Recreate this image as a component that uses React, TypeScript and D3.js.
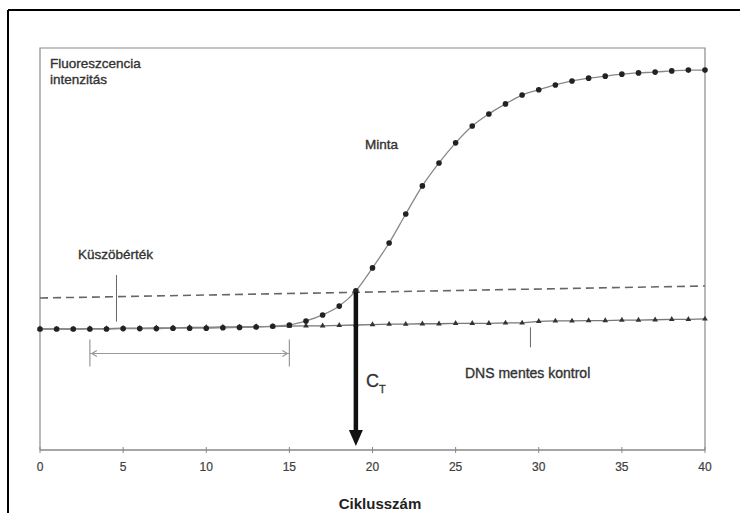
import React from 'react';
import * as d3 from 'd3';

// cycles 0..40
const cycles = d3.range(0, 41);

// sample fluorescence (Minta)
const sampleValues = [
  30.1,
  30.1, 30.1, 30.1, 30.1, 30.2, 30.2, 30.2, 30.3, 30.3, 30.3,
  30.4, 30.5, 30.6, 30.8, 31.1, 32.1, 33.6, 35.8, 39.6, 45.3,
  51.5, 58.7, 65.7, 71.4, 76.4, 80.6, 83.6, 86.1, 88.3, 89.6,
  90.8, 91.8, 92.5, 93.0, 93.5, 93.8, 94.0, 94.3, 94.5, 94.5,
];

// no template control (DNS mentes kontrol)
const controlValues = [
  30.1,
  30.1, 30.1, 30.2, 30.2, 30.3, 30.3, 30.4, 30.4, 30.5, 30.5,
  30.6, 30.6, 30.7, 30.7, 30.8, 30.9, 30.9, 31.0, 31.1, 31.2,
  31.3, 31.3, 31.4, 31.4, 31.5, 31.5, 31.5, 31.6, 31.6, 32.0,
  32.1, 32.1, 32.2, 32.2, 32.3, 32.3, 32.4, 32.5, 32.5, 32.6,
];

// threshold line, [cycle, value]
const threshold: [number, number][] = [[0, 37.8], [40, 40.8]];
const ctCycle = 19;
const baselineRange = [3, 15];
const xTicks = [0, 5, 10, 15, 20, 25, 30, 35, 40];

const W = 740;
const H = 513;
const m = { left: 40, right: 35, top: 48, bottom: 63 };

const font = 'Arial, "Liberation Sans", Helvetica, sans-serif';
const txt = { fill: '#333', stroke: '#333', strokeWidth: 0.35 };

export default function App() {
  const x = d3.scaleLinear().domain([0, 40]).range([m.left, W - m.right]);
  const y = d3.scaleLinear().domain([0, 100]).range([H - m.bottom, m.top]);

  const sample = cycles.map((c, i) => [c, sampleValues[i]] as [number, number]);
  const control = cycles.map((c, i) => [c, controlValues[i]] as [number, number]);

  const line = d3.line<[number, number]>().x(d => x(d[0])).y(d => y(d[1]));
  const curve = d3.line<[number, number]>().x(d => x(d[0])).y(d => y(d[1])).curve(d3.curveMonotoneX);
  const tri = d3.symbol(d3.symbolTriangle, 14)();

  const thrAt = (c: number) => threshold[0][1] + (threshold[1][1] - threshold[0][1]) * (c - threshold[0][0]) / (threshold[1][0] - threshold[0][0]);

  const x0 = x(0), x1 = x(40), yb = y(0), yt = y(100);
  const ctX = x(ctCycle);
  const ctTop = y(thrAt(ctCycle));
  const bandY = y(24);

  return (
    <svg width={W} height={H} style={{ position: 'absolute', left: 0, top: 0, background: '#fff' }} fontFamily={font}>
      {/* outer frame */}
      <line x1={8} y1={10} x2={W} y2={10} stroke="#000" strokeWidth={2} />
      <line x1={8} y1={10} x2={8} y2={H} stroke="#000" strokeWidth={2} />

      {/* plot box */}
      <path d={`M${x0},${yb}V${yt}H${x1}V${yb}`} fill="none" stroke="#8a8a8a" strokeWidth={1.2} />
      <line x1={x0} x2={x1} y1={yb} y2={yb} stroke="#888" strokeWidth={1.5} />

      {/* x axis ticks */}
      {xTicks.map(t => (
        <g key={t}>
          <line x1={x(t)} x2={x(t)} y1={yb - 3} y2={yb + 3} stroke="#888" />
          <text x={x(t)} y={yb + 21} fontSize={12} {...txt} strokeWidth={0.2} fill="#444" textAnchor="middle">{t}</text>
        </g>
      ))}
      <text x={380} y={509} fontSize={15} fontWeight="bold" fill="#222" textAnchor="middle">Ciklusszám</text>

      <text x={50} y={68} fontSize={13.5} {...txt}>Fluoreszcencia</text>
      <text x={50} y={84} fontSize={13.5} {...txt}>intenzitás</text>

      {/* threshold */}
      <path d={line(threshold) || ''} fill="none" stroke="#666" strokeWidth={1.6} strokeDasharray="8,5" />
      <text x={78} y={259} fontSize={13.5} {...txt}>Küszöbérték</text>
      <line x1={x(4.6)} x2={x(4.6)} y1={275} y2={y(thrAt(4.6)) + 25} stroke="#666" strokeWidth={1} />

      {/* control */}
      <path d={line(control) || ''} fill="none" stroke="#777" strokeWidth={1.3} />
      {control.map(d => (
        <path key={'t' + d[0]} d={tri} transform={`translate(${x(d[0])},${y(d[1])})`} fill="#333" />
      ))}
      <text x={465} y={378} fontSize={14} {...txt}>DNS mentes kontrol</text>
      <line x1={x(29.5)} x2={x(29.5)} y1={y(controlValues[30]) + 6} y2={y(controlValues[30]) + 26} stroke="#666" />

      {/* sample */}
      <path d={curve(sample) || ''} fill="none" stroke="#888" strokeWidth={1.3} />
      {sample.map(d => (
        <circle key={'c' + d[0]} cx={x(d[0])} cy={y(d[1])} r={2.8} fill="#222" />
      ))}
      <text x={365} y={149} fontSize={13.5} {...txt}>Minta</text>

      {/* baseline range */}
      <g stroke="#999" strokeWidth={1.2} fill="none">
        <line x1={x(baselineRange[0])} x2={x(baselineRange[1])} y1={bandY} y2={bandY} />
        <line x1={x(baselineRange[0])} x2={x(baselineRange[0])} y1={bandY - 14} y2={bandY + 13} />
        <line x1={x(baselineRange[1])} x2={x(baselineRange[1])} y1={bandY - 14} y2={bandY + 13} />
        <path d={`M${x(baselineRange[0]) + 7},${bandY - 3}L${x(baselineRange[0]) + 2},${bandY}L${x(baselineRange[0]) + 7},${bandY + 3}`} />
        <path d={`M${x(baselineRange[1]) - 7},${bandY - 3}L${x(baselineRange[1]) - 2},${bandY}L${x(baselineRange[1]) - 7},${bandY + 3}`} />
      </g>

      {/* Ct arrow */}
      <line x1={ctX} x2={ctX} y1={ctTop} y2={yb - 16} stroke="#111" strokeWidth={4.5} />
      <path d={`M${ctX - 7},${yb - 20}L${ctX + 7},${yb - 20}L${ctX},${yb - 4}Z`} fill="#111" />
      <text x={366} y={387} fontSize={18} {...txt} strokeWidth={0.3}>C</text>
      <text x={379} y={393} fontSize={11} {...txt} strokeWidth={0.3}>T</text>
    </svg>
  );
}
